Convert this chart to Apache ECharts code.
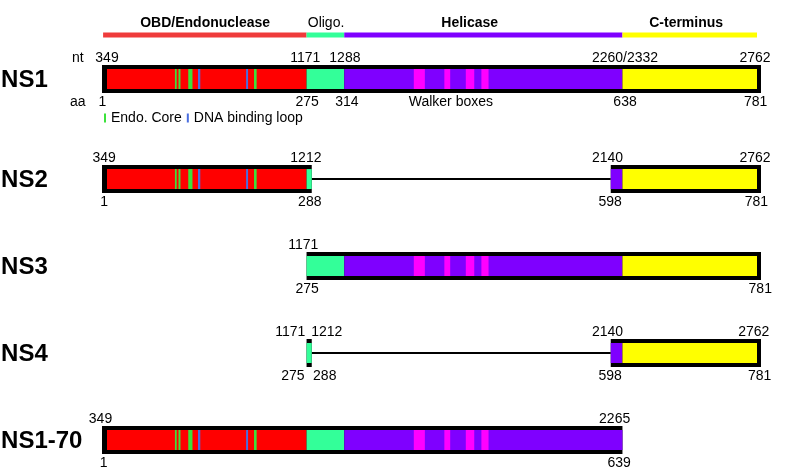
<!DOCTYPE html>
<html><head><meta charset="utf-8">
<script src="https://cdn.jsdelivr.net/npm/echarts@6/dist/echarts.min.js"></script>
<style>html,body{margin:0;padding:0;background:#fff}#c{width:800px;height:470px}</style>
</head><body><div id="c"></div>
<script>
// ---------------- data (schematic x units: NS1 coding region spans 0..100) ----------------
const rowNames = ['NS1', 'NS2', 'NS3', 'NS4', 'NS1-70'];
const domainNames = ['OBD/Endonuclease', 'Oligo.', 'Helicase', 'C-terminus'];
const domainStart = [0, 30.7, 36.5, 79.3];
const domainEnd = [30.7, 36.5, 79.3, 100];
const domainLabelX = [15.1, 33.7, 55.8, 89.1];
const headerBarStart = -0.6;
// exon blocks: [row, start, end, leftCap, rightCap]
const blocks = [
  [0, 0, 100, 1, 1],
  [1, 0, 31.5, 1, 0],
  [1, 77.5, 100, 0, 1],
  [2, 30.7, 100, 0, 1],
  [3, 30.7, 31.5, 0, 0],
  [3, 77.5, 100, 0, 1],
  [4, 0, 79.3, 1, 0]
];
// spliced-out regions: [row, start, end]
const introns = [[1, 31.5, 77.5], [3, 31.5, 77.5]];
// motifs: [start, end]
const endoCore = [[10.45, 10.72], [11.0, 11.3], [12.5, 13.15], [22.62, 23.02]];
const dnaLoop = [[14.0, 14.35], [21.4, 21.7]];
const walkerBoxes = [[47.2, 48.9], [51.9, 52.8], [55.2, 56.5], [57.6, 58.7]];
// nucleotide labels (above) and amino-acid labels (below): [row, x, text]
const ntLabels = [
  [0, 0, '349'], [0, 30.5, '1171'], [0, 36.6, '1288'], [0, 79.7, '2260/2332'], [0, 99.7, '2762'],
  [1, -0.45, '349'], [1, 30.6, '1212'], [1, 77.0, '2140'], [1, 99.7, '2762'],
  [2, 30.2, '1171'],
  [3, 28.2, '1171'], [3, 33.8, '1212'], [3, 77.0, '2140'], [3, 99.5, '2762'],
  [4, -1.0, '349'], [4, 78.1, '2265']
];
const aaLabels = [
  [0, -0.7, '1'], [0, 30.8, '275'], [0, 36.9, '314'], [0, 79.7, '638'], [0, 99.8, '781'],
  [1, -0.45, '1'], [1, 31.2, '288'], [1, 77.4, '598'], [1, 99.9, '781'],
  [2, 30.8, '275'], [2, 100.5, '781'],
  [3, 28.6, '275'], [3, 33.5, '288'], [3, 77.4, '598'], [3, 100.4, '781'],
  [4, -0.5, '1'], [4, 78.8, '639']
];
const walkerLabel = [0, 52.9, 'Walker boxes'];
const seqTypeLabels = [[0, -4.5, 'nt'], [0, -4.5, 'aa']];

// ---------------- layout / style ----------------
const ROW_GAP_AFTER_NS1 = 0.15;   // extra room for the NS1 motif key
const ROWNAME_X = -16.3;
const FILL_H = 10, OUTER_H = 14, CAP_L = 5, CAP_R = 4;
const NT_DY = -21, AA_DY = 23;
const HEADER_BAR_DY = -44, HEADER_BAR_H = 5, HEADER_TEXT_DY = -56;
const FONT = '"Liberation Sans", Arial, sans-serif';
const boxColors = ['#ff0000', '#33ff99', '#7f00ff', '#ffff00'];
const headerColors = ['#ef3b3b', '#33ff99', '#7f00ff', '#ffff00'];
const headerBold = [true, false, true, true];

function rowY(r) { return r === 0 ? 0 : r + ROW_GAP_AFTER_NS1; }

// fill segments = blocks ∩ domains
const fills = [];
blocks.forEach(b => {
  domainStart.forEach((ds, d) => {
    const a = Math.max(b[1], ds), e = Math.min(b[2], domainEnd[d]);
    if (e > a) fills.push([b[0], a, e, d]);
  });
});
// motifs placed on every row whose exon blocks contain them
function motifItems(list) {
  const out = [];
  blocks.forEach(b => list.forEach(m => {
    if (m[0] >= b[1] && m[1] <= b[2]) out.push([b[0], m[0], m[1]]);
  }));
  return out;
}

// text annotations
const annotations = [];
rowNames.forEach((n, r) => annotations.push({x: ROWNAME_X, row: r, dy: 1, text: n, align: 'left', font: 'bold 24px ' + FONT}));
ntLabels.forEach(l => annotations.push({x: l[1], row: l[0], dy: NT_DY, text: l[2], align: 'center', font: '14px ' + FONT}));
aaLabels.forEach(l => annotations.push({x: l[1], row: l[0], dy: AA_DY, text: l[2], align: 'center', font: '14px ' + FONT}));
annotations.push({x: walkerLabel[1], row: walkerLabel[0], dy: AA_DY, text: walkerLabel[2], align: 'center', font: '14px ' + FONT});
annotations.push({x: seqTypeLabels[0][1], row: 0, dy: NT_DY, text: seqTypeLabels[0][2], align: 'center', font: '14px ' + FONT});
annotations.push({x: seqTypeLabels[1][1], row: 0, dy: AA_DY, text: seqTypeLabels[1][2], align: 'center', font: '14px ' + FONT});
domainNames.forEach((n, d) => annotations.push({x: domainLabelX[d], row: 0, dy: HEADER_TEXT_DY, text: n, align: 'center',
  font: (headerBold[d] ? 'bold ' : '') + '14px ' + FONT}));

function segRect(api, row, a, b, halfH, fill, dy) {
  const p0 = api.coord([a, rowY(row)]), p1 = api.coord([b, rowY(row)]);
  return {type: 'rect', shape: {x: p0[0], y: p0[1] - halfH + (dy || 0), width: p1[0] - p0[0], height: 2 * halfH}, style: {fill: fill}};
}

const chart = echarts.init(document.getElementById('c'), null, {renderer: 'canvas'});
chart.setOption({
  animation: false,
  backgroundColor: '#fff',
  grid: {left: 107, right: 43, top: 79, bottom: 30},
  xAxis: {type: 'value', min: 0, max: 100, show: false},
  yAxis: {type: 'value', min: 0, max: 4 + ROW_GAP_AFTER_NS1, inverse: true, show: false},
  legend: {
    data: ['Endo. Core', 'DNA binding loop'],
    left: 104, top: 111, padding: 0, itemGap: 5,
    icon: 'rect', itemWidth: 2, itemHeight: 9,
    textStyle: {fontSize: 14, color: '#000', fontFamily: FONT}
  },
  series: [
    { // header domain bars
      type: 'custom', name: 'domains', silent: true,
      data: domainNames.map((n, d) => [d === 0 ? headerBarStart : domainStart[d], domainEnd[d]]),
      renderItem: (params, api) => segRect(api, 0, api.value(0), api.value(1), HEADER_BAR_H / 2, headerColors[params.dataIndex], HEADER_BAR_DY)
    },
    { // black outlines of exon blocks
      type: 'custom', name: 'blocks', silent: true,
      data: blocks,
      renderItem: (params, api) => {
        const r = api.value(0);
        const p0 = api.coord([api.value(1), rowY(r)]), p1 = api.coord([api.value(2), rowY(r)]);
        const cl = api.value(3) * CAP_L, cr = api.value(4) * CAP_R;
        return {type: 'rect', shape: {x: p0[0] - cl, y: p0[1] - OUTER_H, width: p1[0] - p0[0] + cl + cr, height: 2 * OUTER_H}, style: {fill: '#000'}};
      }
    },
    { // intron lines
      type: 'custom', name: 'introns', silent: true,
      data: introns,
      renderItem: (params, api) => segRect(api, api.value(0), api.value(1), api.value(2), 1, '#000')
    },
    { // domain fills
      type: 'custom', name: 'fills', silent: true,
      data: fills,
      renderItem: (params, api) => segRect(api, api.value(0), api.value(1), api.value(2), FILL_H, boxColors[api.value(3)])
    },
    {
      type: 'custom', name: 'Walker boxes', silent: true, itemStyle: {color: '#ff00ff'},
      data: motifItems(walkerBoxes),
      renderItem: (params, api) => segRect(api, api.value(0), api.value(1), api.value(2), FILL_H, '#ff00ff')
    },
    {
      type: 'custom', name: 'Endo. Core', silent: true, itemStyle: {color: '#3be23b'},
      data: motifItems(endoCore),
      renderItem: (params, api) => segRect(api, api.value(0), api.value(1), api.value(2), FILL_H, '#3be23b')
    },
    {
      type: 'custom', name: 'DNA binding loop', silent: true, itemStyle: {color: '#4a6ee0'},
      data: motifItems(dnaLoop),
      renderItem: (params, api) => segRect(api, api.value(0), api.value(1), api.value(2), FILL_H, '#4a6ee0')
    },
    { // text annotations
      type: 'custom', name: 'labels', silent: true,
      data: annotations.map(a => [a.x, rowY(a.row)]),
      renderItem: (params, api) => {
        const a = annotations[params.dataIndex];
        const p = api.coord([a.x, rowY(a.row)]);
        return {type: 'text', x: p[0], y: p[1] + a.dy,
          style: {text: a.text, align: a.align, verticalAlign: 'middle', font: a.font, fill: '#000'}};
      }
    }
  ]
});
</script>
</body></html>
